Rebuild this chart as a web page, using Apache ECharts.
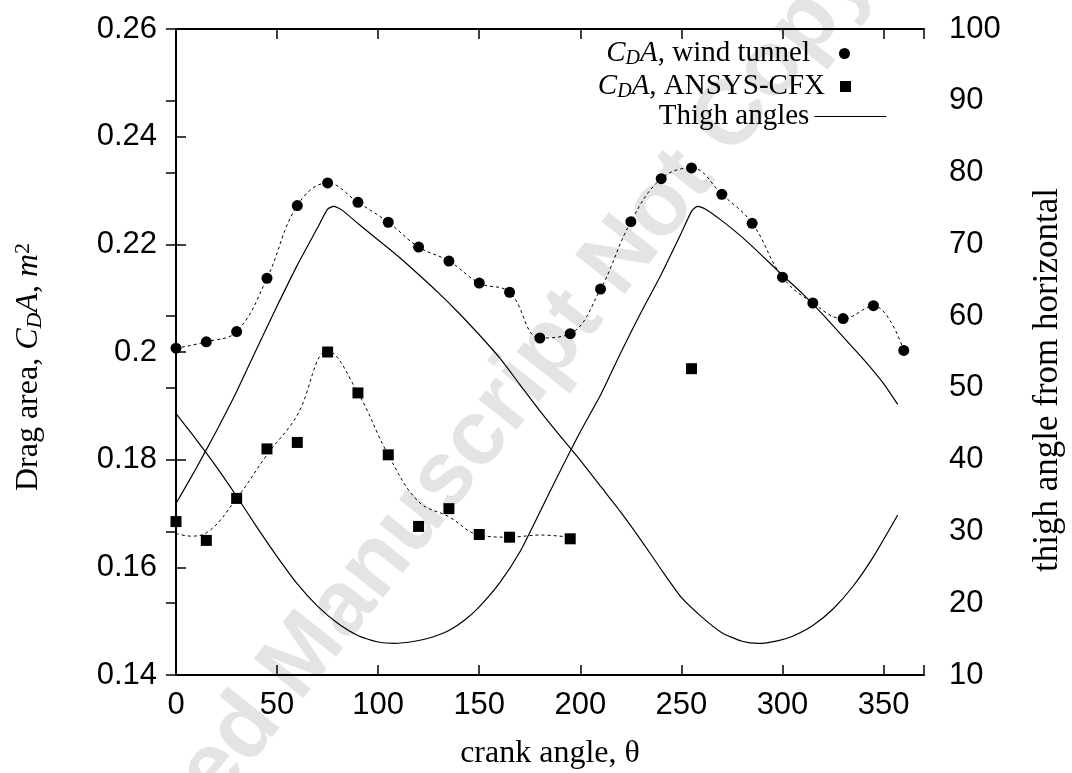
<!DOCTYPE html>
<html>
<head>
<meta charset="utf-8">
<script src="https://cdn.jsdelivr.net/npm/echarts@6/dist/echarts.min.js"></script>
<style>
  html, body { margin: 0; padding: 0; background: #fff; }
  #chart { width: 1072px; height: 773px; }
</style>
</head>
<body>
<div id="chart"></div>
<script>
// crank angles of the wind tunnel measurements
const crankAngles = [0, 15, 30, 45, 60, 75, 90, 105, 120, 135, 150, 165, 180,
  195, 210, 225, 240, 255, 270, 285, 300, 315, 330, 345, 360]
const windTunnel = [0.2007, 0.2019, 0.2038, 0.2137, 0.2272, 0.2314, 0.2278, 0.2241, 0.2195,
  0.2169, 0.2128, 0.2111, 0.2026, 0.2034, 0.2117, 0.2242, 0.2322, 0.2342, 0.2293, 0.2239,
  0.2139, 0.2091, 0.2062, 0.2086, 0.2003]

// ANSYS-CFX results
const cfxAngles = [0, 15, 30, 45, 60, 75, 90, 105, 120, 135, 150, 165, 195, 255]
const cfxValues = [0.1685, 0.1650, 0.1728, 0.1820, 0.1832, 0.2000, 0.1924, 0.1809, 0.1676,
  0.1709, 0.1661, 0.1656, 0.1653, 0.1969]

// dashed fit through the CFX points
const cfxFitAngles = [0, 7, 15, 30, 45, 60, 75, 90, 105, 120, 135, 150, 165, 180, 195]
const cfxFit = [0.1663, 0.1658, 0.1664, 0.1728, 0.1809, 0.1883, 0.2002, 0.1924, 0.1809,
  0.1722, 0.1694, 0.1660, 0.1656, 0.1660, 0.1656]

// thigh angles (right axis), two legs
const thighAnglesA = [0, 10, 20, 30, 40, 50, 60, 70, 75, 78, 82, 90, 100, 110, 120, 130, 140,
  150, 160, 170, 180, 190, 200, 210, 220, 230, 240, 250, 260, 270, 280, 288, 298, 305, 315,
  325, 335, 345, 357]
const thighA = [33.9, 38.8, 44.0, 49.5, 55.5, 61.4, 67.1, 72.3, 74.9, 75.3, 74.8, 72.9, 70.6,
  68.3, 65.8, 63.2, 60.4, 57.4, 54.2, 50.5, 46.8, 43.3, 39.9, 36.3, 32.7, 28.8, 24.7, 20.8,
  18.1, 15.9, 14.7, 14.4, 14.8, 15.4, 16.9, 19.2, 22.4, 26.5, 32.3]
const thighAnglesB = [0, 10, 20, 30, 40, 50, 60, 70, 80, 90, 100, 108, 118, 127, 135, 143,
  150, 160, 170, 180, 190, 200, 210, 220, 230, 240, 250, 255, 258, 262, 270, 280, 290, 300,
  310, 320, 330, 340, 350, 357]
const thighB = [46.4, 42.8, 39.0, 34.9, 30.6, 26.5, 22.7, 19.6, 17.2, 15.5, 14.6, 14.4, 14.7,
  15.3, 16.2, 17.7, 19.5, 22.8, 27.1, 32.7, 38.4, 43.9, 49.0, 54.9, 60.5, 65.8, 71.6, 74.6,
  75.3, 74.9, 73.3, 71.0, 68.4, 65.7, 63.1, 60.2, 57.1, 54.0, 50.6, 47.7]

const serif = 'Liberation Serif'
const sans = 'Liberation Sans'

function richFor(size) {
  const small = Math.round(size * 0.68)
  return {
    i: { fontFamily: serif, fontStyle: 'italic', fontSize: size, lineHeight: size + 2, color: '#000' },
    s: { fontFamily: serif, fontStyle: 'italic', fontSize: small, lineHeight: small - 3, verticalAlign: 'bottom', color: '#000' },
    p: { fontFamily: serif, fontSize: small, lineHeight: small - 3, verticalAlign: 'top', color: '#000' },
  }
}

const pairs = (xs, ys) => xs.map((x, i) => [x, ys[i]])

function legendBox(name, right, top, itemWidth, gap, label, extra) {
  return {
    data: [name],
    orient: 'vertical',
    align: 'right',
    right: right,
    top: top,
    padding: 0,
    itemWidth: itemWidth,
    itemHeight: 11,
    selectedMode: false,
    formatter: () => label,
    textStyle: {
      fontFamily: serif, fontSize: 29, lineHeight: 31, color: '#000',
      padding: [0, gap, 0, 0], rich: richFor(29),
    },
    ...extra,
  }
}

const axisLine = { show: true, lineStyle: { color: '#000', width: 2 } }
const axisTick = { show: true, inside: true, length: 10, lineStyle: { color: '#000', width: 1.5 } }
const tickFont = { fontFamily: sans, fontSize: 31, color: '#000' }

const option = {
  backgroundColor: '#fff',
  animation: false,
  grid: { left: 176, right: 148, top: 29, bottom: 98, outerBoundsMode: 'none' },
  graphic: [{
    type: 'text',
    x: 515,
    y: 391,
    rotation: 51.5 * Math.PI / 180,
    z: -10,
    style: {
      text: 'Accepted Manuscript Not Copyedited',
      fontFamily: sans,
      fontWeight: 'bold',
      fontSize: 92,
      fill: '#e4e4e4',
      align: 'center',
      verticalAlign: 'middle',
    },
  }],
  legend: [
    legendBox('wind tunnel', 222, 38, 11, 24, '{i|C}{s|D}{i|A}, wind tunnel'),
    legendBox('ANSYS-CFX', 221, 71, 11, 10, '{i|C}{s|D}{i|A}, ANSYS-CFX'),
    legendBox('Thigh angles', 185, 101, 72, 0, 'Thigh angles', {
      itemStyle: { opacity: 0 },
      lineStyle: { color: '#000', width: 1.2 },
    }),
  ],
  xAxis: [
    {
      type: 'value',
      min: 0,
      max: 370,
      interval: 50,
      name: 'crank angle, θ',
      nameLocation: 'middle',
      nameGap: 63,
      nameTextStyle: { fontFamily: serif, fontSize: 32, color: '#000' },
      axisLine,
      axisTick,
      splitLine: { show: false },
      axisLabel: { ...tickFont, margin: 15, formatter: v => (v > 350 ? '' : String(v)) },
    },
    {
      type: 'value',
      position: 'top',
      min: 0,
      max: 370,
      interval: 50,
      axisLine,
      axisTick,
      splitLine: { show: false },
      axisLabel: { show: false },
    },
  ],
  yAxis: [
    {
      type: 'value',
      min: 0.14,
      max: 0.26,
      interval: 0.02,
      name: 'Drag area, {i|C}{s|D}{i|A}, {i|m}{p|2}',
      nameLocation: 'middle',
      nameGap: 130,
      nameRotate: 90,
      nameTextStyle: {
        fontFamily: serif, fontSize: 32, lineHeight: 34, color: '#000',
        padding: [0, 30, 0, 0], rich: richFor(32),
      },
      axisLine,
      axisTick,
      splitLine: { show: false },
      axisLabel: { ...tickFont, margin: 19 },
    },
    {
      type: 'value',
      position: 'right',
      min: 10,
      max: 100,
      interval: 10,
      name: 'thigh angle from horizontal',
      nameLocation: 'middle',
      nameGap: 106,
      nameRotate: 90,
      nameTextStyle: {
        fontFamily: serif, fontSize: 35, lineHeight: 36, color: '#000',
        padding: [0, 56, 0, 0],
      },
      axisLine,
      axisTick,
      splitLine: { show: false },
      axisLabel: { ...tickFont, margin: 25 },
    },
  ],
  series: [
    {
      name: 'wind tunnel fit',
      type: 'line',
      smooth: 0.4,
      symbol: 'none',
      data: pairs(crankAngles, windTunnel),
      lineStyle: { color: '#000', width: 1, type: [3, 3] },
      z: 3,
    },
    {
      name: 'wind tunnel',
      type: 'scatter',
      symbol: 'circle',
      symbolSize: 11,
      data: pairs(crankAngles, windTunnel),
      itemStyle: { color: '#000', opacity: 1 },
      z: 5,
    },
    {
      name: 'ANSYS-CFX fit',
      type: 'line',
      smooth: 0.4,
      symbol: 'none',
      data: pairs(cfxFitAngles, cfxFit),
      lineStyle: { color: '#000', width: 1, type: [3, 3] },
      z: 3,
    },
    {
      name: 'ANSYS-CFX',
      type: 'scatter',
      symbol: 'rect',
      symbolSize: 11,
      data: pairs(cfxAngles, cfxValues),
      itemStyle: { color: '#000', opacity: 1 },
      z: 5,
    },
    {
      name: 'Thigh angles',
      type: 'line',
      yAxisIndex: 1,
      smooth: 0.2,
      symbol: 'none',
      data: pairs(thighAnglesA, thighA),
      lineStyle: { color: '#000', width: 1.2 },
      z: 4,
    },
    {
      name: 'Thigh angles',
      type: 'line',
      yAxisIndex: 1,
      smooth: 0.2,
      symbol: 'none',
      data: pairs(thighAnglesB, thighB),
      lineStyle: { color: '#000', width: 1.2 },
      z: 4,
    },
  ],
}

const chart = echarts.init(document.getElementById('chart'))
chart.setOption(option)
</script>
</body>
</html>
